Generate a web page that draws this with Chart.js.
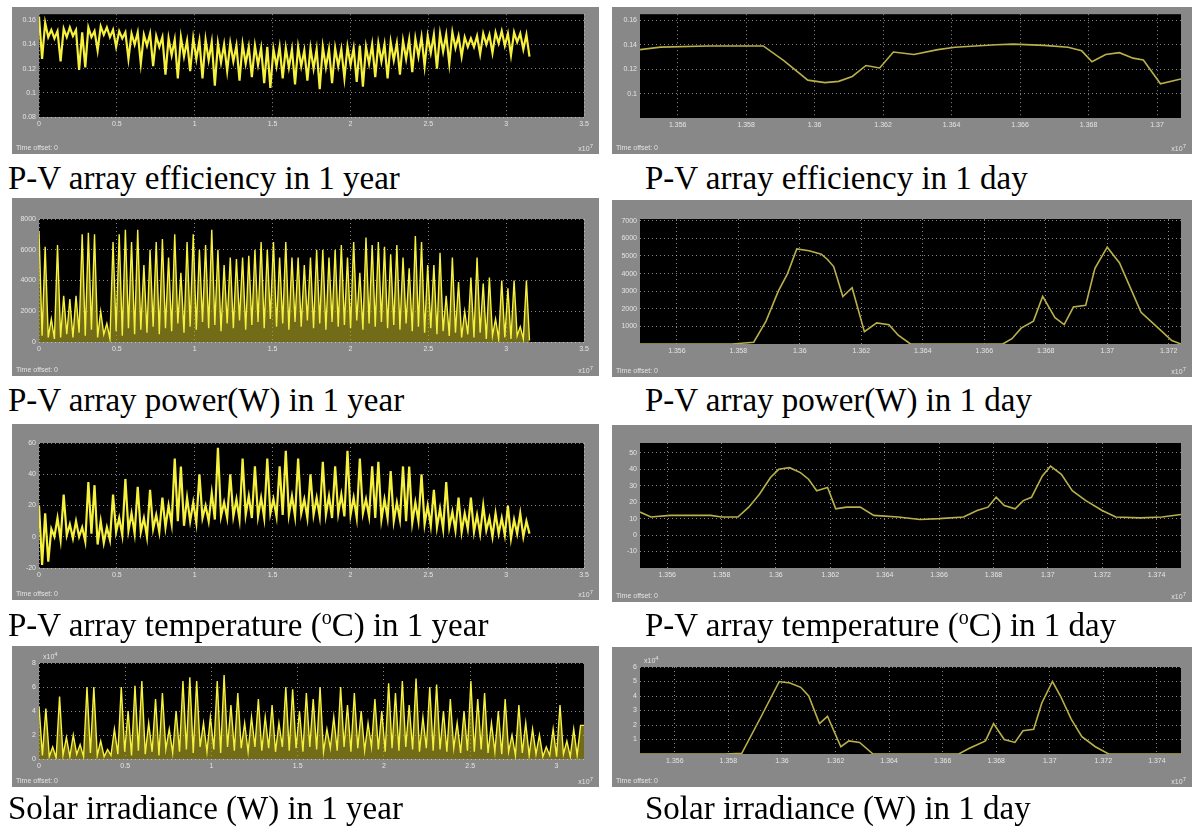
<!DOCTYPE html>
<html>
<head>
<meta charset="utf-8">
<script src="https://cdn.jsdelivr.net/npm/chart.js@4.4.1/dist/chart.umd.min.js"></script>
<style>
  body { margin: 0; background: #fff; width: 1194px; height: 830px; position: relative; overflow: hidden; }
  .panel { position: absolute; background: #888888; }
  .panel canvas { position: absolute; left: 0; top: 0; }
  .small { position: absolute; font: 7px 'Liberation Sans', Arial, sans-serif; color: #e2e2e2; white-space: nowrap; }
  .small sup { font-size: 6px; }
  .cap { position: absolute; font: 33px 'Liberation Serif', 'Times New Roman', serif; color: #000; white-space: nowrap; line-height: 1; }
  .cap sup { font-size: 20px; }
</style>
</head>
<body>
<script>
// x values are in units of 1e7 s (the scope shows "x10^7")

// tick labels
const yearTicksX = [0, 0.5, 1, 1.5, 2, 2.5, 3, 3.5];
const irrYearTicksX = [0, 0.5, 1, 1.5, 2, 2.5, 3];
const effDayTicksX = [1.356, 1.358, 1.36, 1.362, 1.364, 1.366, 1.368, 1.37];
const powDayTicksX = [1.356, 1.358, 1.36, 1.362, 1.364, 1.366, 1.368, 1.37, 1.372];
const longDayTicksX = [1.356, 1.358, 1.36, 1.362, 1.364, 1.366, 1.368, 1.37, 1.372, 1.374];

const effYearTicksY = [0.08, 0.1, 0.12, 0.14, 0.16];
const effDayTicksY = [0.1, 0.12, 0.14, 0.16];
const powYearTicksY = [0, 2000, 4000, 6000, 8000];
const powDayTicksY = [1000, 2000, 3000, 4000, 5000, 6000, 7000];
const tempYearTicksY = [-20, 0, 20, 40, 60];
const tempDayTicksY = [-10, 0, 10, 20, 30, 40, 50];
const irrYearTicksY = [0, 2, 4, 6, 8];
const irrDayTicksY = [1, 2, 3, 4, 5, 6];

// one year, sampled evenly from 0 to the end time
const yearEnd = 3.15;
const irrYearEnd = 3.16;

const effYear = [
  0.163, 0.128, 0.158, 0.146, 0.152, 0.145, 0.151, 0.126, 0.153, 0.146,
  0.154, 0.147, 0.152, 0.119, 0.150, 0.121, 0.154, 0.146, 0.151, 0.135,
  0.155, 0.148, 0.154, 0.146, 0.152, 0.138, 0.151, 0.145, 0.150, 0.128,
  0.149, 0.140, 0.150, 0.124, 0.148, 0.139, 0.149, 0.122, 0.147, 0.138,
  0.146, 0.115, 0.145, 0.131, 0.144, 0.112, 0.146, 0.130, 0.143, 0.118,
  0.145, 0.128, 0.143, 0.112, 0.144, 0.127, 0.142, 0.106, 0.141, 0.125,
  0.140, 0.118, 0.141, 0.126, 0.139, 0.110, 0.140, 0.124, 0.138, 0.113,
  0.139, 0.123, 0.137, 0.108, 0.138, 0.104, 0.136, 0.122, 0.138, 0.112,
  0.137, 0.121, 0.136, 0.107, 0.138, 0.122, 0.135, 0.110, 0.137, 0.120,
  0.136, 0.103, 0.138, 0.121, 0.136, 0.108, 0.137, 0.122, 0.136, 0.112,
  0.138, 0.123, 0.137, 0.109, 0.139, 0.105, 0.138, 0.124, 0.140, 0.113,
  0.141, 0.126, 0.140, 0.112, 0.142, 0.127, 0.141, 0.115, 0.143, 0.128,
  0.144, 0.117, 0.145, 0.130, 0.146, 0.122, 0.147, 0.133, 0.148, 0.120,
  0.149, 0.134, 0.148, 0.124, 0.150, 0.137, 0.147, 0.130, 0.146, 0.138,
  0.145, 0.138, 0.147, 0.132, 0.149, 0.140, 0.148, 0.133, 0.150, 0.141,
  0.151, 0.139, 0.149, 0.131, 0.150, 0.142, 0.149, 0.136, 0.148, 0.130
];

const powYear = [
  7200, 400, 6200, 300, 1500, 200, 6300, 300, 3000, 500,
  2800, 300, 3000, 600, 7000, 400, 7100, 800, 7000, 300,
  2000, 500, 1200, 200, 6500, 700, 7000, 400, 7300, 900,
  6500, 500, 7300, 800, 5000, 600, 6000, 1000, 6500, 500,
  6700, 900, 5500, 700, 7000, 1200, 4500, 600, 6500, 1000,
  7000, 800, 6000, 1300, 6300, 900, 7300, 1100, 6000, 700,
  5000, 1200, 5500, 900, 5400, 1400, 5500, 800, 5600, 1100,
  6000, 1300, 6500, 900, 6000, 1500, 6500, 1000, 5500, 1200,
  6500, 800, 5500, 1300, 5500, 1000, 5000, 1400, 5500, 900,
  6000, 1200, 6000, 800, 5500, 1300, 6000, 1000, 6300, 1100,
  5500, 900, 6500, 1400, 4500, 800, 6800, 1200, 6300, 1000,
  6500, 1300, 6200, 900, 5700, 1100, 6300, 800, 5500, 1200,
  4800, 700, 6900, 1000, 6500, 600, 5000, 900, 5000, 500,
  5800, 700, 3000, 400, 5500, 600, 3900, 300, 2000, 500,
  4200, 300, 5500, 600, 3800, 200, 4200, 400, 1500, 200,
  4000, 300, 3500, 200, 4000, 400, 1000, 200, 4000, 100
];

const tempYear = [
  20, -18, 15, -16, 5, 0, 12, -2, 27, 1,
  8, -1, 10, 0, 6, -3, 35, 2, 33, -5,
  10, -4, 6, -2, 27, 3, 12, 1, 37, 4,
  15, 2, 32, 3, 12, 0, 30, 5, 14, 3,
  25, 6, 20, 8, 50, 10, 45, 7, 25, 10,
  22, 9, 40, 12, 20, 10, 28, 11, 57, 13,
  22, 12, 40, 13, 24, 11, 50, 14, 26, 12,
  45, 13, 25, 12, 50, 15, 24, 13, 45, 14,
  55, 14, 26, 13, 50, 15, 24, 12, 40, 14,
  25, 13, 48, 14, 26, 12, 45, 15, 27, 13,
  55, 14, 25, 12, 50, 15, 24, 13, 45, 12,
  48, 11, 24, 12, 42, 10, 22, 11, 45, 10,
  45, 9, 22, 10, 40, 8, 20, 7, 30, 6,
  18, 5, 35, 6, 16, 4, 25, 3, 15, 5,
  25, 3, 14, 2, 20, 4, 12, 0, 15, 2,
  12, 1, 20, -1, 11, 2, 15, 0, 10, 2
];

const irrYear = [
  4.4, 0.3, 4.2, 0.2, 1.0, 0.1, 5.2, 0.3, 1.8, 0.2,
  2.0, 0.4, 1.2, 0.2, 6.0, 0.5, 6.0, 0.3, 1.5, 0.2,
  0.8, 0.3, 2.5, 0.4, 6.0, 0.6, 4.0, 0.3, 6.1, 0.7,
  6.5, 0.4, 3.0, 0.6, 5.0, 0.3, 5.5, 0.8, 2.5, 0.5,
  4.0, 0.6, 6.5, 0.8, 6.8, 0.5, 6.5, 1.0, 3.0, 0.6,
  3.5, 0.8, 6.5, 0.5, 7.0, 1.0, 4.5, 0.7, 5.5, 0.9,
  3.0, 0.6, 3.5, 1.0, 5.0, 0.7, 3.5, 0.9, 4.5, 0.6,
  3.0, 1.0, 6.0, 0.7, 5.8, 0.9, 4.0, 0.6, 5.5, 1.0,
  5.0, 0.8, 6.0, 0.6, 2.5, 0.9, 3.5, 0.7, 6.0, 1.0,
  4.5, 0.6, 5.5, 0.9, 4.0, 0.7, 3.0, 1.0, 5.0, 0.8,
  4.0, 0.6, 6.3, 0.9, 5.5, 0.7, 6.5, 1.0, 4.5, 0.8,
  6.7, 0.6, 3.5, 0.9, 6.0, 0.7, 6.2, 0.8, 4.0, 0.6,
  5.0, 0.9, 3.0, 0.5, 4.0, 0.7, 6.5, 0.6, 5.0, 0.8,
  5.5, 0.5, 3.0, 0.6, 4.0, 0.4, 5.0, 0.6, 2.0, 0.3,
  4.5, 0.5, 3.0, 0.3, 2.5, 0.4, 2.0, 0.2, 1.0, 0.3,
  2.5, 0.2, 4.5, 0.4, 1.5, 0.2, 2.5, 0.3, 2.8, 2.8
];

// one day
const effDayT = [1.3549, 1.3555, 1.3569, 1.3585, 1.3591, 1.3598, 1.3603, 1.3607, 1.3611, 1.3615, 1.3619, 1.3623, 1.3629, 1.3636,
  1.3641, 1.3653, 1.3658, 1.3667, 1.3674, 1.3678, 1.3681, 1.3685, 1.3689, 1.3693, 1.3696, 1.3701, 1.3707];
const effDayV = [0.136, 0.138, 0.139, 0.139, 0.127, 0.111, 0.109, 0.110, 0.114, 0.123, 0.121, 0.134, 0.132, 0.136,
  0.138, 0.140, 0.1405, 0.1395, 0.138, 0.135, 0.126, 0.132, 0.1335, 0.129, 0.1275, 0.108, 0.112];

const powDayT = [1.3548, 1.3578, 1.3585, 1.3589, 1.3593, 1.3596, 1.3599, 1.3603, 1.3607, 1.3609, 1.3611, 1.3614, 1.3617, 1.3621,
  1.3625, 1.3629, 1.3632, 1.3636, 1.3666, 1.3669, 1.3672, 1.3676, 1.3679, 1.3683, 1.3686, 1.3689, 1.3693, 1.3696,
  1.3700, 1.3704, 1.3708, 1.3711, 1.3716, 1.3721, 1.3724];
const powDayV = [0, 0, 100, 1300, 3000, 4000, 5400, 5300, 5100, 4800, 4400, 2700, 3200, 700,
  1200, 1100, 500, 0, 0, 300, 900, 1300, 2700, 1500, 1100, 2100, 2200, 4300,
  5500, 4600, 3000, 1800, 1000, 200, 0];

const tempDayT = [1.3550, 1.3554, 1.3561, 1.3576, 1.3580, 1.3586, 1.3590, 1.3594, 1.3598, 1.3601, 1.3605, 1.3609, 1.3612, 1.3615,
  1.3619, 1.3622, 1.3626, 1.3631, 1.3636, 1.3645, 1.3653, 1.3660, 1.3669, 1.3674, 1.3678, 1.3681, 1.3684, 1.3688,
  1.3691, 1.3694, 1.3698, 1.3701, 1.3705, 1.3709, 1.3714, 1.3720, 1.3725, 1.3734, 1.3742, 1.3749];
const tempDayV = [14, 11, 12, 12, 11, 11, 17, 25, 35, 40, 41, 38, 34, 27,
  29, 16, 17, 17, 12, 11, 9.5, 10, 11, 15, 17, 23, 18, 16,
  21, 23, 36, 42, 37, 27, 21, 15, 11, 10.5, 11, 12.5];

const irrDayT = [1.3547, 1.3579, 1.3585, 1.3592, 1.3599, 1.3603, 1.3607, 1.3610, 1.3614, 1.3617, 1.3622, 1.3625, 1.3629, 1.3634,
  1.3666, 1.3670, 1.3676, 1.3679, 1.3683, 1.3687, 1.3690, 1.3694, 1.3697, 1.3701, 1.3704, 1.3708, 1.3712, 1.3717,
  1.3722, 1.3749];
const irrDayV = [0, 0, 0.05, 2.5, 5.0, 4.9, 4.6, 4.0, 2.1, 2.6, 0.5, 0.9, 0.8, 0,
  0, 0.4, 0.9, 2.1, 1.0, 0.8, 1.6, 1.7, 3.5, 5.0, 4.0, 2.4, 1.2, 0.5,
  0, 0];

function pairs(t, v) {
  return v.map((y, i) => ({ x: t[i], y: y }));
}
function yearTimes(v, end) {
  return v.map((_, i) => i * end / (v.length - 1));
}

const YEAR_LINE = '#f6f13e';
const DAY_LINE = '#b9b04a';
const TICK_COL = '#e4e4e4';

// paint the plot area black before the grid goes on
const blackArea = {
  id: 'blackArea',
  beforeDraw(chart) {
    const a = chart.chartArea;
    chart.ctx.save();
    chart.ctx.fillStyle = '#000';
    chart.ctx.fillRect(a.left, a.top, a.right - a.left, a.bottom - a.top);
    chart.ctx.restore();
  }
};

function axis(ticksArr, min, max, fit) {
  return {
    type: 'linear',
    min: min,
    max: max,
    afterFit: fit,
    afterBuildTicks: s => { s.ticks = ticksArr.map(v => ({ value: v })); },
    ticks: {
      color: TICK_COL,
      font: { family: 'Liberation Sans', size: 7 },
      padding: 3,
      maxRotation: 0,
      autoSkip: false,
      callback: v => String(v)
    },
    grid: { color: 'rgba(225,225,225,0.6)', lineWidth: 1, drawTicks: false },
    border: { display: false, dash: [1, 3] }
  };
}

function addPanel(p) {
  const g = p.grey, a = p.plot;
  const w = g[2] - g[0], h = g[3] - g[1];
  const div = document.createElement('div');
  div.className = 'panel';
  div.style.left = g[0] + 'px';
  div.style.top = g[1] + 'px';
  div.style.width = w + 'px';
  div.style.height = h + 'px';
  const cv = document.createElement('canvas');
  cv.width = w;
  cv.height = h;
  cv.style.width = w + 'px';
  cv.style.height = h + 'px';
  div.appendChild(cv);

  const off = document.createElement('div');
  off.className = 'small';
  off.style.left = '4px';
  off.style.bottom = '3px';
  off.textContent = 'Time offset:  0';
  div.appendChild(off);

  const mul = document.createElement('div');
  mul.className = 'small';
  mul.style.right = '6px';
  mul.style.bottom = '2px';
  mul.innerHTML = 'x10<sup>7</sup>';
  div.appendChild(mul);

  if (p.yMult) {
    const ym = document.createElement('div');
    ym.className = 'small';
    ym.style.left = (a[0] - g[0] + 4) + 'px';
    ym.style.top = (a[1] - g[1] - 12) + 'px';
    ym.innerHTML = 'x10<sup>' + p.yMult + '</sup>';
    div.appendChild(ym);
  }
  document.body.appendChild(div);

  const padL = a[0] - g[0], padT = a[1] - g[1], padR = g[2] - a[2], padB = g[3] - a[3];

  new Chart(cv, {
    type: 'line',
    data: {
      datasets: [{
        data: p.data,
        borderColor: p.color,
        borderWidth: p.lw,
        pointRadius: 0,
        tension: 0,
        fill: p.fill ? 'origin' : false,
        backgroundColor: p.fill || 'transparent'
      }]
    },
    options: {
      responsive: false,
      animation: false,
      devicePixelRatio: 1,
      layout: { padding: { top: padT, right: padR, left: 0, bottom: 0 } },
      plugins: { legend: { display: false }, tooltip: { enabled: false } },
      scales: {
        x: axis(p.xTicks, p.xMin, p.xMax, s => { s.height = padB; }),
        y: axis(p.yTicks, p.yMin, p.yMax, s => { s.width = padL; })
      }
    },
    plugins: [blackArea]
  });
}

function addCaption(x, baseline, html) {
  const d = document.createElement('div');
  d.className = 'cap';
  d.style.left = x + 'px';
  d.style.top = (baseline - 28) + 'px';
  d.innerHTML = html;
  document.body.appendChild(d);
}

const LG = [12, 599], LP = [39, 584];
const RG = [612, 1192], RP = [640, 1181];

// row 1: efficiency
addPanel({ grey: [LG[0], 7, LG[1], 154], plot: [LP[0], 12, LP[1], 117],
  data: pairs(yearTimes(effYear, yearEnd), effYear), color: YEAR_LINE, lw: 2.2,
  xTicks: yearTicksX, xMin: 0, xMax: 3.5, yTicks: effYearTicksY, yMin: 0.08, yMax: 0.165 });
addPanel({ grey: [RG[0], 7, RG[1], 154], plot: [RP[0], 12, RP[1], 118],
  data: pairs(effDayT, effDayV), color: DAY_LINE, lw: 1.6,
  xTicks: effDayTicksX, xMin: 1.3549, xMax: 1.3707, yTicks: effDayTicksY, yMin: 0.08, yMax: 0.165 });

// row 2: power
addPanel({ grey: [LG[0], 198, LG[1], 376], plot: [LP[0], 219, LP[1], 342],
  data: pairs(yearTimes(powYear, yearEnd), powYear), color: YEAR_LINE, lw: 1.4, fill: 'rgba(175,165,35,0.65)',
  xTicks: yearTicksX, xMin: 0, xMax: 3.5, yTicks: powYearTicksY, yMin: 0, yMax: 8000 });
addPanel({ grey: [RG[0], 200, RG[1], 377], plot: [RP[0], 219, RP[1], 344],
  data: pairs(powDayT, powDayV), color: DAY_LINE, lw: 1.6,
  xTicks: powDayTicksX, xMin: 1.3548, xMax: 1.3724, yTicks: powDayTicksY, yMin: 0, yMax: 7100 });

// row 3: temperature
addPanel({ grey: [LG[0], 424, LG[1], 600], plot: [LP[0], 443, LP[1], 568],
  data: pairs(yearTimes(tempYear, yearEnd), tempYear), color: YEAR_LINE, lw: 2.2,
  xTicks: yearTicksX, xMin: 0, xMax: 3.5, yTicks: tempYearTicksY, yMin: -20, yMax: 60 });
addPanel({ grey: [RG[0], 425, RG[1], 602], plot: [RP[0], 443, RP[1], 568],
  data: pairs(tempDayT, tempDayV), color: DAY_LINE, lw: 1.6,
  xTicks: longDayTicksX, xMin: 1.355, xMax: 1.3749, yTicks: tempDayTicksY, yMin: -20, yMax: 56 });

// row 4: irradiance
addPanel({ grey: [LG[0], 646, LG[1], 787], plot: [LP[0], 663, LP[1], 759], yMult: 4,
  data: pairs(yearTimes(irrYear, irrYearEnd), irrYear), color: YEAR_LINE, lw: 1.4, fill: 'rgba(175,165,35,0.65)',
  xTicks: irrYearTicksX, xMin: 0, xMax: irrYearEnd, yTicks: irrYearTicksY, yMin: 0, yMax: 8 });
addPanel({ grey: [RG[0], 647, RG[1], 787], plot: [RP[0], 667, RP[1], 754], yMult: 4,
  data: pairs(irrDayT, irrDayV), color: DAY_LINE, lw: 1.6,
  xTicks: longDayTicksX, xMin: 1.3547, xMax: 1.3749, yTicks: irrDayTicksY, yMin: 0, yMax: 6 });

addCaption(8, 190, 'P-V array efficiency in 1 year');
addCaption(645, 190, 'P-V array efficiency in 1 day');
addCaption(8, 412, 'P-V array power(W) in 1 year');
addCaption(645, 412, 'P-V array power(W) in 1 day');
addCaption(8, 635, 'P-V array temperature (<sup>o</sup>C) in 1 year');
addCaption(645, 635, 'P-V array temperature (<sup>o</sup>C) in 1 day');
addCaption(8, 820, 'Solar irradiance (W) in 1 year');
addCaption(645, 820, 'Solar irradiance (W) in 1 day');
</script>
</body>
</html>
